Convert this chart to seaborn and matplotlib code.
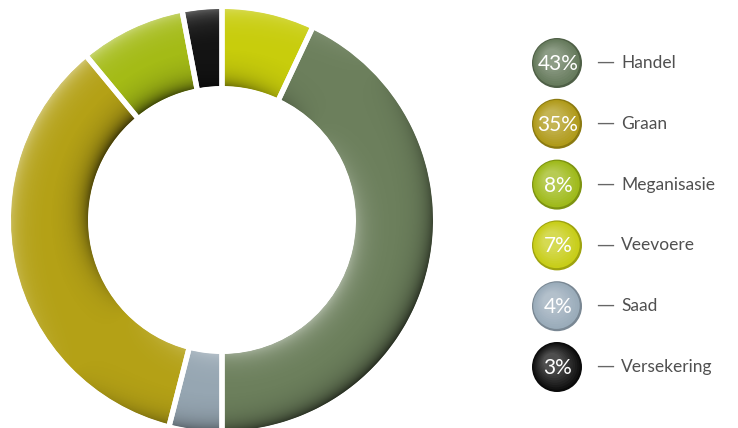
import numpy as np
import pandas as pd
import matplotlib
matplotlib.use("Agg")
import matplotlib.pyplot as plt
import seaborn as sns
from matplotlib.colors import to_rgb

# Ring segments, clockwise from 12 o'clock
ring_labels = ["Veevoere", "Handel", "Saad", "Graan", "Meganisasie", "Versekering"]
ring_shares = [7, 43, 4, 35, 8, 3]
ring_colors = ["#c8cd0c", "#6c7f5c", "#96a6b2", "#b4a116", "#a4bb16", "#141414"]

# Legend entries, top to bottom
legend_labels = ["Handel", "Graan", "Meganisasie", "Veevoere", "Saad", "Versekering"]
legend_shares = [43, 35, 8, 7, 4, 3]
legend_colors = ["#627758", "#ae9814", "#9cb814", "#c6cc12", "#97a9b8", "#0c0c0c"]

W, H = 738, 428
sns.set_theme(style="white")
plt.rcParams["font.family"] = ["Lato", "DejaVu Sans"]

fig = plt.figure(figsize=(W / 100, H / 100), dpi=100)
ax = fig.add_axes([0, 0, 1, 1])

center = (222, H - 220)
r_out, r_in = 211, 134
band = r_out - r_in


def shade(color, f):
    c = np.array(to_rgb(color))
    if f >= 1:
        c = c + (1 - c) * (f - 1)
    else:
        c = c * f
    return tuple(np.clip(c, 0, 1))


# Flat ring
ax.pie(ring_shares, radius=r_out, center=center, startangle=90,
       counterclock=False, colors=ring_colors,
       wedgeprops=dict(width=band, linewidth=0))

# Bevel lighting: light falls from the upper left, so rims facing the
# lower right are shaded and rims facing the upper left catch a highlight
yy, xx = np.mgrid[0:H, 0:W] + 0.5
dx, dy = xx - center[0], (H - yy) - center[1]
rr = np.hypot(dx, dy)
th = np.arctan2(dy, dx)
t = (rr - r_in) / band
s = (np.cos(th) - np.sin(th)) / np.sqrt(2)
wid = 0.12
v = s * (np.exp(-(1 - t) / wid) - np.exp(-t / wid))
v = v + 0.06 * s * (2 * t - 1)
cover = np.clip(r_out - rr + 0.5, 0, 1) * np.clip(rr - r_in + 0.5, 0, 1)
rgba = np.zeros((H, W, 4))
dark = v > 0
rgba[..., :3] = np.where(dark[..., None], 0.0, 1.0)
rgba[..., 3] = np.where(dark, 0.62 * v, 0.38 * -v).clip(0, 1) * cover
ax.imshow(rgba, extent=(0, W, 0, H), origin="upper", zorder=2,
          interpolation="bilinear")

# White separators between segments
sep, _ = ax.pie(ring_shares, radius=r_out + 3, center=center, startangle=90,
                counterclock=False, colors=["none"] * len(ring_shares),
                wedgeprops=dict(width=band + 6, edgecolor="white", linewidth=3.8))
for w in sep:
    w.set_zorder(3)

# Legend: shaded discs drawn with seaborn
leg = pd.DataFrame({
    "label": legend_labels,
    "share": legend_shares,
    "color": legend_colors,
})
leg["x"] = 557.0
leg["y"] = H - (63 + 60.8 * np.arange(len(leg)))

disc = 50 * 72 / 100  # diameter in points
for k in range(10):
    frac = 1 - k * 0.07
    off = k * 0.9
    f = 1 + 0.03 * k if k > 0 else 0.8
    sub = leg.assign(x=leg["x"] - off * 0.6, y=leg["y"] + off * 0.6)
    sns.scatterplot(data=sub, x="x", y="y", hue="label",
                    palette=[shade(c, f) for c in legend_colors],
                    s=(disc * frac) ** 2, linewidth=0, legend=False, ax=ax,
                    zorder=5 + k)

for _, row in leg.iterrows():
    ax.text(row["x"] + 1, row["y"] - 1, f"{row['share']}%", color="white",
            fontsize=15, ha="center", va="center", zorder=30)
    ax.text(row["x"] + 39, row["y"] + 1, "—", color="#666666", fontsize=13,
            family="DejaVu Sans", ha="left", va="center", zorder=30)
    ax.text(row["x"] + 64, row["y"], row["label"], color="#505050",
            fontsize=12.5, ha="left", va="center", zorder=30)

ax.set_xlim(0, W)
ax.set_ylim(0, H)
ax.set_aspect("auto")
ax.axis("off")

fig.savefig("out.png", dpi=100, facecolor="white")
